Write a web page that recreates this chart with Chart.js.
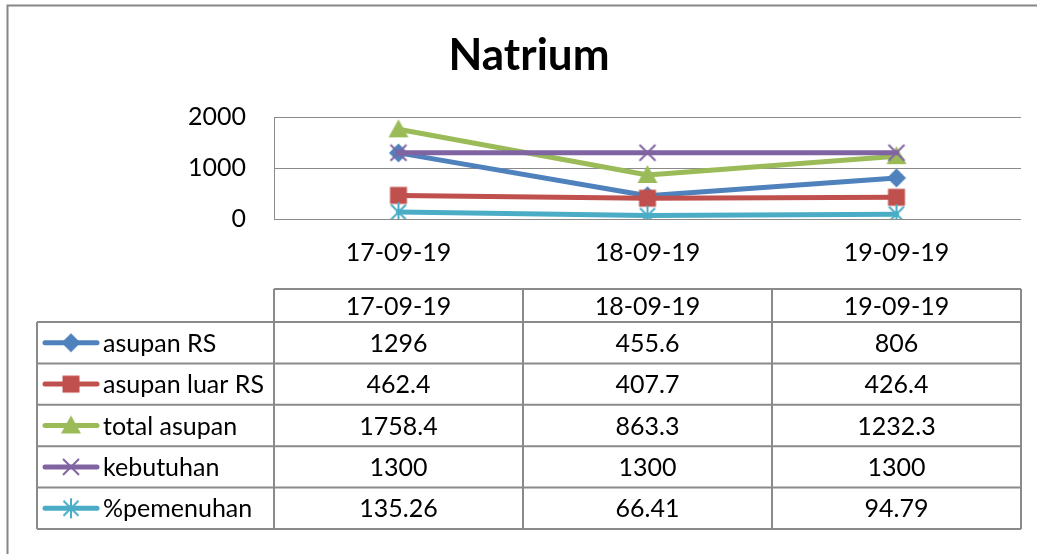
<!DOCTYPE html>
<html>
<head>
<meta charset="utf-8">
<title>Natrium</title>
<script src="https://cdn.jsdelivr.net/npm/chart.js@4/dist/chart.umd.min.js"></script>
<style>
  html, body { margin: 0; padding: 0; background: #fff; }
  #wrap { width: 1037px; height: 554px; }
  canvas { display: block; }
</style>
</head>
<body>
<div id="wrap"><canvas id="chart" width="1037" height="554"></canvas></div>
<script>
// Chart title
const chartTitle = 'Natrium';
// Dates on the category axis and in the table header
const categories = ['17-09-19', '18-09-19', '19-09-19'];
// Series names (table row headers)
const seriesNames = ['asupan RS', 'asupan luar RS', 'total asupan', 'kebutuhan', '%pemenuhan'];
// Series values per date
const asupanRS     = [1296, 455.6, 806];
const asupanLuarRS = [462.4, 407.7, 426.4];
const totalAsupan  = [1758.4, 863.3, 1232.3];
const kebutuhan    = [1300, 1300, 1300];
const pemenuhan    = [135.26, 66.41, 94.79];
// Value axis ticks
const yTicks = [0, 1000, 2000];

const seriesValues = [asupanRS, asupanLuarRS, totalAsupan, kebutuhan, pemenuhan];
const seriesColors = ['#4F81BD', '#C0504D', '#9BBB59', '#8064A2', '#4BACC6'];
const FONT = 'Lato, "Open Sans", "DejaVu Sans", sans-serif';
const GRID = '#8a8a8a';

// Marker images (Office-style diamond, square, triangle, x, asterisk)
function makeMarker(kind, color) {
  const c = document.createElement('canvas');
  c.width = 26; c.height = 26;
  const g = c.getContext('2d');
  g.translate(13, 13);
  g.fillStyle = color; g.strokeStyle = color;
  g.lineWidth = 2; g.lineCap = 'butt';
  g.beginPath();
  if (kind === 'diamond') {
    g.moveTo(0, -9.5); g.lineTo(9.5, 0); g.lineTo(0, 9.5); g.lineTo(-9.5, 0); g.closePath(); g.fill();
  } else if (kind === 'square') {
    g.rect(-8.5, -8.5, 17, 17); g.fill();
  } else if (kind === 'triangle') {
    g.moveTo(0, -10); g.lineTo(10, 8); g.lineTo(-10, 8); g.closePath(); g.fill();
  } else if (kind === 'x') {
    g.moveTo(-8, -8); g.lineTo(8, 8); g.moveTo(8, -8); g.lineTo(-8, 8); g.stroke();
  } else if (kind === 'star') {
    g.moveTo(-7.5, -7.5); g.lineTo(7.5, 7.5); g.moveTo(7.5, -7.5); g.lineTo(-7.5, 7.5);
    g.moveTo(0, -10); g.lineTo(0, 10); g.stroke();
  }
  return c;
}
const markerKinds = ['diamond', 'square', 'triangle', 'x', 'star'];
const markers = markerKinds.map((k, i) => makeMarker(k, seriesColors[i]));

// Background, outer frame and title
const framePlugin = {
  id: 'frame',
  beforeDraw(chart) {
    const ctx = chart.ctx;
    ctx.save();
    ctx.fillStyle = '#ffffff';
    ctx.fillRect(0, 0, chart.width, chart.height);
    ctx.strokeStyle = '#868686';
    ctx.lineWidth = 2;
    ctx.beginPath();
    ctx.moveTo(7.5, chart.height + 2);
    ctx.lineTo(7.5, 5.5);
    ctx.lineTo(chart.width + 2, 5.5);
    ctx.stroke();
    ctx.fillStyle = '#000';
    ctx.font = 'bold 44px ' + FONT;
    ctx.textAlign = 'center';
    ctx.textBaseline = 'alphabetic';
    ctx.fillText(chartTitle, 529, 70);
    ctx.restore();
  }
};

// Data table under the plot, columns aligned with the category scale
const tablePlugin = {
  id: 'dataTable',
  afterDraw(chart) {
    const ctx = chart.ctx;
    const xs = chart.scales.x;
    const area = chart.chartArea;
    const half = (xs.getPixelForValue(1) - xs.getPixelForValue(0)) / 2;
    const edges = [area.left];
    categories.forEach((c, i) => edges.push(xs.getPixelForValue(i) + half));
    const right = edges[edges.length - 1];
    const headTop = 289, headBottom = 322, rowH = 41.4, legendLeft = 37;
    const bottom = headBottom + rowH * seriesNames.length;

    ctx.save();
    ctx.strokeStyle = GRID;
    ctx.lineWidth = 2;
    ctx.beginPath();
    // header box
    ctx.moveTo(area.left, headTop); ctx.lineTo(right, headTop);
    // row lines
    for (let r = 0; r <= seriesNames.length; r++) {
      const y = headBottom + rowH * r;
      ctx.moveTo(legendLeft, y); ctx.lineTo(right, y);
    }
    // column lines
    ctx.moveTo(legendLeft, headBottom); ctx.lineTo(legendLeft, bottom);
    edges.forEach(x => { ctx.moveTo(x, headTop); ctx.lineTo(x, bottom); });
    ctx.stroke();

    ctx.fillStyle = '#000';
    ctx.font = '25px ' + FONT;
    ctx.textBaseline = 'middle';
    ctx.textAlign = 'center';
    categories.forEach((c, i) => {
      ctx.fillText(c, xs.getPixelForValue(i), (headTop + headBottom) / 2 + 1);
    });
    seriesNames.forEach((name, r) => {
      const cy = headBottom + rowH * r + rowH / 2;
      // legend key
      ctx.strokeStyle = seriesColors[r];
      ctx.lineWidth = 5;
      ctx.lineCap = 'round';
      ctx.beginPath(); ctx.moveTo(45, cy); ctx.lineTo(97, cy); ctx.stroke();
      ctx.drawImage(markers[r], 71 - 13, cy - 13);
      ctx.textAlign = 'left';
      ctx.fillText(name, 103, cy + 1);
      ctx.textAlign = 'center';
      seriesValues[r].forEach((v, i) => {
        ctx.fillText(String(v), xs.getPixelForValue(i), cy + 1);
      });
    });
    ctx.restore();
  }
};

const datasets = seriesNames.map((name, i) => ({
  label: name,
  data: seriesValues[i],
  borderColor: seriesColors[i],
  backgroundColor: seriesColors[i],
  borderWidth: 5,
  borderJoinStyle: 'round',
  borderCapStyle: 'round',
  pointStyle: markers[i],
  pointRadius: 10,
  tension: 0,
  fill: false,
  order: seriesNames.length - i
}));

new Chart(document.getElementById('chart'), {
  type: 'line',
  data: { labels: categories, datasets },
  options: {
    responsive: false,
    animation: false,
    devicePixelRatio: 1,
    layout: { padding: { top: 117, left: 0, right: 16, bottom: 265 } },
    plugins: {
      legend: { display: false },
      tooltip: { enabled: false },
      title: { display: false }
    },
    scales: {
      x: {
        offset: true,
        grid: { display: false, drawTicks: false },
        border: { display: false },
        ticks: { color: '#000', padding: 19, font: { family: FONT, size: 25, lineHeight: 1.2 }, maxRotation: 0 },
        afterFit(scale) { scale.height = 70; }
      },
      y: {
        min: yTicks[0],
        max: yTicks[yTicks.length - 1],
        grid: { color: GRID, lineWidth: 1, drawTicks: false },
        border: { display: true, color: GRID, width: 1 },
        ticks: {
          stepSize: yTicks[1] - yTicks[0],
          color: '#000',
          padding: 28,
          font: { family: FONT, size: 25, lineHeight: 1.2 },
          callback: (v) => String(v)
        },
        afterFit(scale) { scale.width = 274; }
      }
    }
  },
  plugins: [framePlugin, tablePlugin]
});
</script>
</body>
</html>
